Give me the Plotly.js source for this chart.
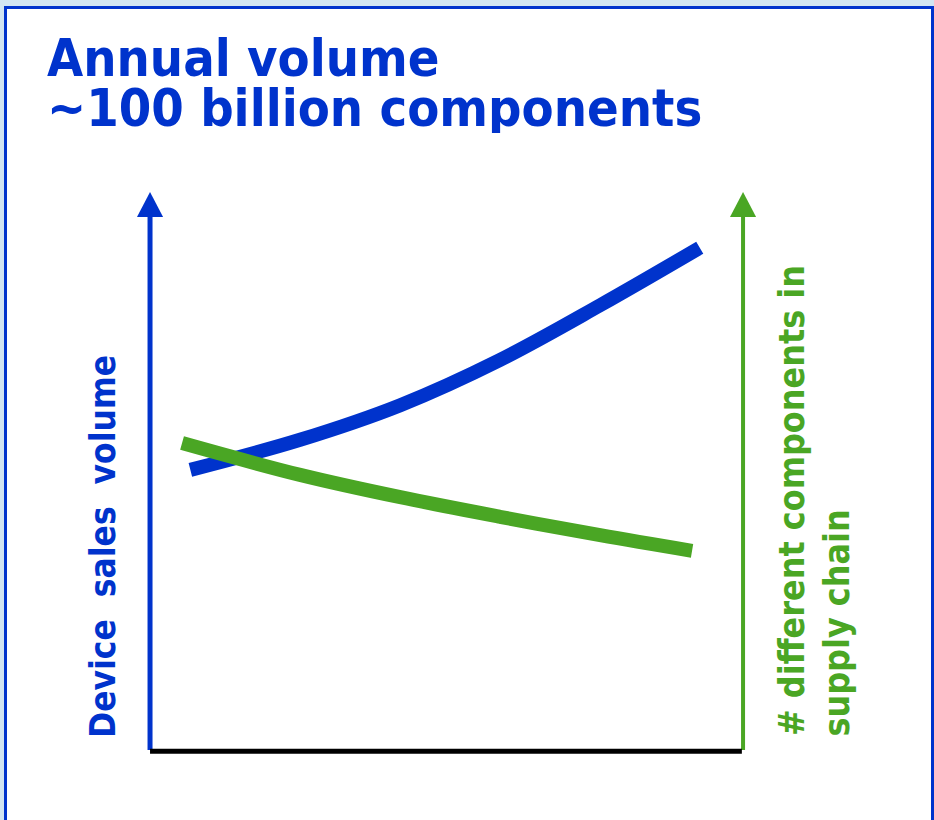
<!DOCTYPE html>
<html><head><meta charset="utf-8">
<script src="https://cdn.plot.ly/plotly-3.0.1.min.js"></script>
<style>body{margin:0;padding:0;background:#d2e5f2}#c{width:934px;height:820px}</style>
</head><body><div id="c"></div>
<script>
// Conceptual data (arbitrary units, 0-10 scale)
const timeX = [0.68, 2.53, 4.22, 5.90, 7.59, 9.27];
const salesVolume = [5.02, 5.56, 6.18, 6.99, 7.97, 9.00];
const componentsX = [0.54, 2.53, 4.22, 5.90, 7.59, 9.14];
const componentsCount = [5.50, 4.93, 4.53, 4.18, 3.85, 3.57];

const titleLines = ["Annual volume", "~100 billion components"];
const leftLabel = "Device&nbsp; sales&nbsp; volume";
const rightLabelLines = ["# different components in", "supply chain"];

const BLUE = "#0033cc", GREEN = "#4aa624", FONT = "DejaVu Sans Condensed, DejaVu Sans, sans-serif";

const traces = [
  {x: timeX, y: salesVolume, mode: "lines", line: {color: BLUE, width: 14, shape: "spline"}, hoverinfo: "skip"},
  {x: componentsX, y: componentsCount, mode: "lines", line: {color: GREEN, width: 14, shape: "spline"}, hoverinfo: "skip"}
];

const py = p => 1 - p / 820, px = p => p / 934;

const layout = {
  width: 934, height: 820, margin: {l: 0, r: 0, t: 0, b: 0},
  paper_bgcolor: "#d2e5f2", plot_bgcolor: "rgba(0,0,0,0)", showlegend: false,
  xaxis: {range: [-2.53, 13.22], visible: false, fixedrange: true},
  yaxis: {range: [-1.254, 13.44], visible: false, fixedrange: true},
  shapes: [
    {type: "rect", xref: "paper", yref: "paper", x0: px(5.5), x1: px(932.5), y0: -0.02, y1: py(7.5),
     line: {color: BLUE, width: 3}, fillcolor: "#ffffff", layer: "below"},
    {type: "line", xref: "x", yref: "y", x0: 0, x1: 0, y0: 0, y1: 9.6, line: {color: BLUE, width: 5}},
    {type: "path", xref: "x", yref: "y", path: "M -0.22 9.55 L 0.22 9.55 L 0 10 Z", fillcolor: BLUE, line: {width: 0}},
    {type: "line", xref: "x", yref: "y", x0: 10, x1: 10, y0: 0, y1: 9.6, line: {color: GREEN, width: 4}},
    {type: "path", xref: "x", yref: "y", path: "M 9.78 9.55 L 10.22 9.55 L 10 10 Z", fillcolor: GREEN, line: {width: 0}},
    {type: "line", xref: "x", yref: "y", x0: 0, x1: 9.98, y0: -0.02, y1: -0.02, line: {color: "#000000", width: 5}}
  ],
  annotations: [
    {xref: "paper", yref: "paper", x: px(45), y: py(31), xanchor: "left", yanchor: "top", align: "left",
     height: 50, valign: "middle",
     text: "<b>" + titleLines[0] + "</b>", showarrow: false,
     font: {family: FONT, size: 52, color: BLUE}},
    {xref: "paper", yref: "paper", x: px(45), y: py(81), xanchor: "left", yanchor: "top", align: "left",
     height: 50, valign: "middle",
     text: "<b>" + titleLines[1] + "</b>", showarrow: false,
     font: {family: FONT, size: 52, color: BLUE}},
    {xref: "paper", yref: "paper", x: px(103), y: py(547), xanchor: "center", yanchor: "middle",
     text: "<b>" + leftLabel + "</b>", textangle: -90, showarrow: false,
     font: {family: FONT, size: 35, color: BLUE}},
    {xref: "paper", yref: "paper", x: px(791), y: py(501), xanchor: "center", yanchor: "middle",
     text: "<b>" + rightLabelLines[0] + "</b>", textangle: -90, showarrow: false,
     font: {family: FONT, size: 35.5, color: GREEN}},
    {xref: "paper", yref: "paper", x: px(836), y: py(623.5), xanchor: "center", yanchor: "middle",
     text: "<b>" + rightLabelLines[1] + "</b>", textangle: -90, showarrow: false,
     font: {family: FONT, size: 35.5, color: GREEN}}
  ]
};
Plotly.newPlot("c", traces, layout, {displayModeBar: false, staticPlot: true});
</script></body></html>
